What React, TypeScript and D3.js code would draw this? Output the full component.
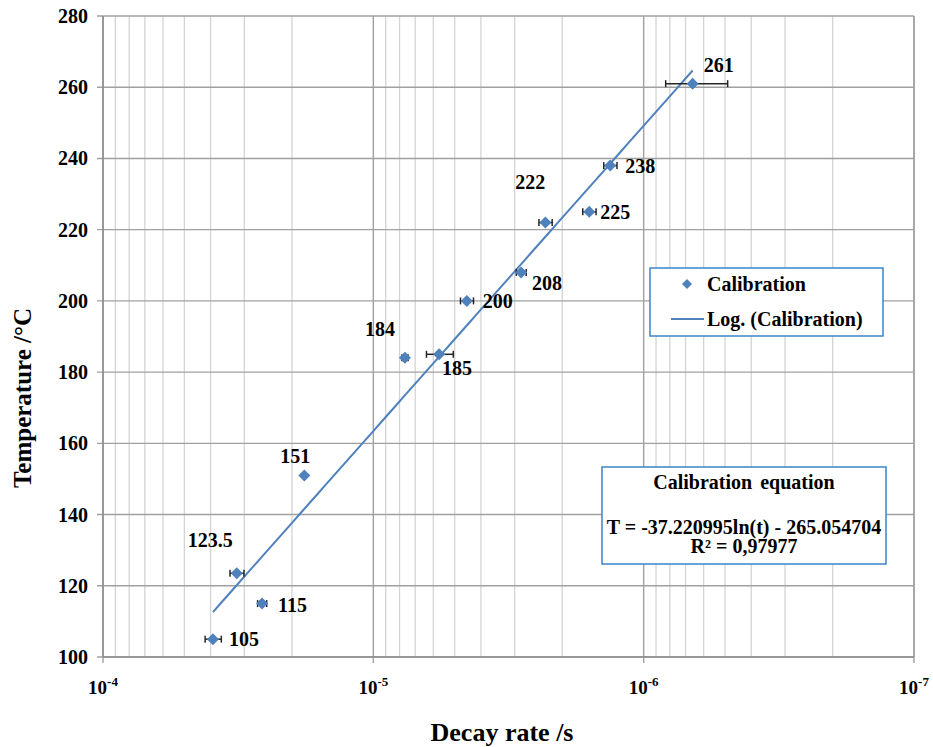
import React from "react";
import * as d3 from "d3";

// ---- data ----
const temperatures = [105, 115, 123.5, 151, 184, 185, 200, 208, 222, 225, 238, 261];
const decayRates = [3.92e-5, 2.58e-5, 3.2e-5, 1.8e-5, 7.64e-6, 5.71e-6, 4.51e-6, 2.84e-6, 2.31e-6, 1.59e-6, 1.33e-6, 6.59e-7];
const decayErrors = [0.27e-5, 0.1e-5, 0.19e-5, 0, 0.2e-6, 0.65e-6, 0.25e-6, 0.12e-6, 0.13e-6, 0.09e-6, 0.075e-6, 1.7e-7];
const pointLabels = ["105", "115", "123.5", "151", "184", "185", "200", "208", "222", "225", "238", "261"];
const yTicks = [100, 120, 140, 160, 180, 200, 220, 240, 260, 280];
const xDecades = [1e-4, 1e-5, 1e-6, 1e-7];
const xDecadeExp = ["-4", "-5", "-6", "-7"];
const fitSlope = -37.220995;
const fitIntercept = -265.054704;
const equationText = "T = -37.220995ln(t) - 265.054704";
const r2Text = "R² = 0,97977";

// label placement (layout only)
const labelPlacement: Record<string, [number, number, string]> = {
  "105": [16, 0, "start"],
  "115": [16, 1, "start"],
  "123.5": [-4, -33, "end"],
  "151": [-9, -19, "middle"],
  "184": [-25, -29, "middle"],
  "185": [18, 14, "middle"],
  "200": [16, 0, "start"],
  "208": [26, 11, "middle"],
  "222": [-15, -41, "middle"],
  "225": [11, 0, "start"],
  "238": [15, 0, "start"],
  "261": [26, -19, "middle"],
};

const W = 933, H = 747;
const L = 103, R = 914, T = 16, B = 657;
const FONT = "'Liberation Serif', 'Times New Roman', serif";
const BLUE = "#4f81bd";

export default function App() {
  const x = d3.scaleLog().domain([1e-4, 1e-7]).range([L, R]);
  const y = d3.scaleLinear().domain([100, 280]).range([B, T]);

  const minor: number[] = [];
  [1e-5, 1e-6, 1e-7].forEach((d) => {
    for (let k = 2; k <= 9; k++) minor.push(d * k);
  });

  const tMin = d3.min(decayRates)!;
  const tMax = d3.max(decayRates)!;
  const fitPts = d3.range(0, 61).map((i) => {
    const t = Math.exp(Math.log(tMax) + (Math.log(tMin) - Math.log(tMax)) * (i / 60));
    return [x(t), y(fitSlope * Math.log(t) + fitIntercept)] as [number, number];
  });
  const line = d3.line();

  const diamond = (cx: number, cy: number, r: number) =>
    `M${cx},${cy - r}L${cx + r},${cy}L${cx},${cy + r}L${cx - r},${cy}Z`;

  return (
    <svg width={W} height={H} style={{ position: "absolute", left: 0, top: 0, background: "#fff" }} fontFamily={FONT} fontWeight="bold">
      <rect x={0} y={0} width={W} height={H} fill="#fff" />
      {/* minor vertical grid */}
      {minor.map((v, i) => (
        <line key={"m" + i} x1={x(v)} x2={x(v)} y1={T} y2={B} stroke="#d4d4d4" strokeWidth={1.3} />
      ))}
      {/* major vertical grid */}
      {xDecades.map((v, i) => (
        <line key={"M" + i} x1={x(v)} x2={x(v)} y1={T} y2={B + 6} stroke="#a0a0a0" strokeWidth={1.4} />
      ))}
      {/* horizontal grid */}
      {yTicks.map((v) => (
        <line key={"h" + v} x1={L - 6} x2={R} y1={y(v)} y2={y(v)} stroke="#a0a0a0" strokeWidth={1.4} />
      ))}
      <line x1={R} x2={R} y1={T} y2={B} stroke="#a0a0a0" strokeWidth={1.4} />
      <line x1={L} x2={L} y1={T} y2={B} stroke="#8c8c8c" strokeWidth={1.5} />
      <line x1={L} x2={R} y1={B} y2={B} stroke="#8c8c8c" strokeWidth={1.5} />

      {/* y tick labels */}
      {yTicks.map((v) => (
        <text key={"yl" + v} x={88} y={y(v)} textAnchor="end" dominantBaseline="central" fontSize={20} fill="#000">
          {v}
        </text>
      ))}
      {/* x tick labels */}
      {xDecades.map((v, i) => (
        <text key={"xl" + i} x={x(v)} y={694} textAnchor="middle" fontSize={19} fill="#000">
          10<tspan dy={-8} fontSize={13}>{xDecadeExp[i]}</tspan>
        </text>
      ))}

      {/* axis titles */}
      <text x={502} y={741} textAnchor="middle" fontSize={26} fill="#000">Decay rate /s</text>
      <text transform={`translate(22,398) rotate(-90)`} textAnchor="middle" dominantBaseline="central" fontSize={25} fill="#000">
        Temperature /°C
      </text>

      {/* trend line */}
      <path d={line(fitPts)!} fill="none" stroke={BLUE} strokeWidth={2} />

      {/* error bars */}
      {decayRates.map((r, i) => {
        const e = decayErrors[i];
        if (!e) return null;
        const x1 = x(r + e), x2 = x(r - e), cy = y(temperatures[i]);
        return (
          <g key={"e" + i} stroke="#262626" strokeWidth={1.5}>
            <line x1={x1} x2={x2} y1={cy} y2={cy} />
            <line x1={x1} x2={x1} y1={cy - 3.5} y2={cy + 3.5} />
            <line x1={x2} x2={x2} y1={cy - 3.5} y2={cy + 3.5} />
          </g>
        );
      })}

      {/* markers */}
      {decayRates.map((r, i) => (
        <path key={"p" + i} d={diamond(x(r), y(temperatures[i]), 6)} fill={BLUE} />
      ))}

      {/* data labels */}
      {pointLabels.map((lab, i) => {
        const [dx, dy, anchor] = labelPlacement[lab];
        return (
          <text key={"dl" + i} x={x(decayRates[i]) + dx} y={y(temperatures[i]) + dy} textAnchor={anchor as any}
            dominantBaseline="central" fontSize={20} fill="#000">
            {lab}
          </text>
        );
      })}

      {/* legend */}
      <rect x={650} y={268} width={233} height={68} fill="#fff" stroke="#3d85c6" strokeWidth={1.5} />
      <path d={diamond(687, 284, 5)} fill={BLUE} />
      <text x={707} y={284} dominantBaseline="central" fontSize={20} fill="#000">Calibration</text>
      <line x1={671} x2={704} y1={319} y2={319} stroke={BLUE} strokeWidth={2} />
      <text x={707} y={319} dominantBaseline="central" fontSize={20} fill="#000">Log. (Calibration)</text>

      {/* equation box */}
      <rect x={602} y={467} width={284} height={97} fill="#fff" stroke="#3d85c6" strokeWidth={1.5} />
      <text x={744} y={482} textAnchor="middle" dominantBaseline="central" fontSize={20} fill="#000" wordSpacing={3}>Calibration equation</text>
      <text x={744} y={527} textAnchor="middle" dominantBaseline="central" fontSize={20} fill="#000">{equationText}</text>
      <text x={744} y={546} textAnchor="middle" dominantBaseline="central" fontSize={20} fill="#000">{r2Text}</text>
    </svg>
  );
}
